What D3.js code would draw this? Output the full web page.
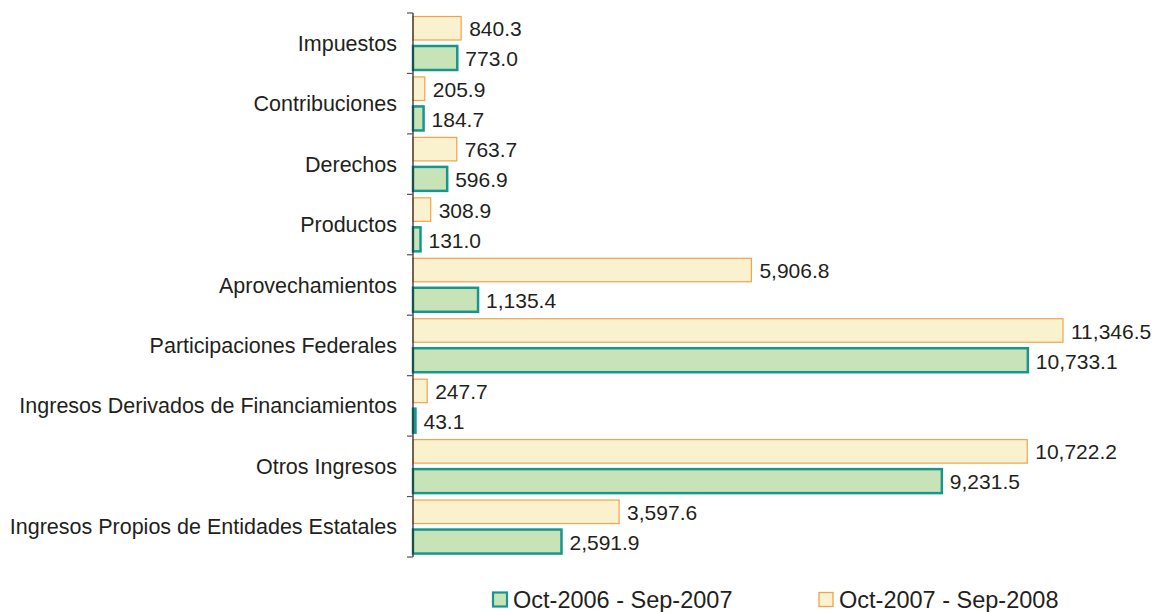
<!DOCTYPE html>
<html><head><meta charset="utf-8">
<script src="https://cdn.jsdelivr.net/npm/d3@7"></script>
<style>body{margin:0;background:#fff}svg{display:block}text{font-family:"Liberation Sans",Arial,sans-serif}</style>
</head><body>
<script>
const categories = ["Impuestos","Contribuciones","Derechos","Productos","Aprovechamientos","Participaciones Federales","Ingresos Derivados de Financiamientos","Otros Ingresos","Ingresos Propios de Entidades Estatales"];
const series2007 = [773.0,184.7,596.9,131.0,1135.4,10733.1,43.1,9231.5,2591.9];
const series2008 = [840.3,205.9,763.7,308.9,5906.8,11346.5,247.7,10722.2,3597.6];
const seriesNames = ["Oct-2006 - Sep-2007","Oct-2007 - Sep-2008"];

const W=1160,H=612;
const svg=d3.select("body").append("svg").attr("width",W).attr("height",H);
const x0=413;
const x=d3.scaleLinear().domain([0,11346.5]).range([x0,1063]);
const y=d3.scaleBand().domain(categories).range([13,557]);
const fmt=d3.format(",.1f");
const FS=21;

const g=svg.append("g");
categories.forEach((c,i)=>{
  const b=y(c);
  g.append("rect").attr("x",x(0)).attr("y",b+3.5).attr("width",x(series2008[i])-x(0)).attr("height",23.5)
    .attr("fill","#FAF1CF").attr("stroke","#F2A24A").attr("stroke-width",1.2);
  g.append("text").attr("x",x(series2008[i])+8).attr("y",b+16).attr("dy","0.35em")
    .attr("font-size",FS).attr("fill","#231f20").text(fmt(series2008[i]));
  g.append("rect").attr("x",x(0)).attr("y",b+33).attr("width",x(series2007[i])-x(0)).attr("height",24)
    .attr("fill","#C9E3B8").attr("stroke","#17978C").attr("stroke-width",2.5);
  g.append("text").attr("x",x(series2007[i])+8).attr("y",b+46).attr("dy","0.35em")
    .attr("font-size",FS).attr("fill","#231f20").text(fmt(series2007[i]));
});

svg.append("line").attr("x1",x0).attr("x2",x0).attr("y1",13).attr("y2",557).attr("stroke","#231f20").attr("stroke-width",1.2);
const bounds=categories.map(c=>y(c)).concat([y.range()[1]]);
svg.selectAll(".tk").data(bounds).join("line").attr("x1",x0-6).attr("x2",x0).attr("y1",d=>d).attr("y2",d=>d)
  .attr("stroke","#555").attr("stroke-width",1.2);
svg.selectAll(".cl").data(categories).join("text").attr("x",397).attr("y",d=>y(d)+y.bandwidth()/2).attr("dy","0.35em")
  .attr("text-anchor","end").attr("font-size",21.5).attr("fill","#231f20").text(d=>d);

const leg=[{name:seriesNames[0],fill:"#C9E3B8",stroke:"#17978C",sw:2.2,x:493},{name:seriesNames[1],fill:"#FAF1CF",stroke:"#F2A24A",sw:1.3,x:819}];
leg.forEach(l=>{
  svg.append("rect").attr("x",l.x).attr("y",592.5).attr("width",14).attr("height",14).attr("fill",l.fill).attr("stroke",l.stroke).attr("stroke-width",l.sw);
  svg.append("text").attr("x",l.x+20).attr("y",600).attr("dy","0.35em").attr("font-size",23.5).attr("fill","#231f20").text(l.name);
});
</script>
</body></html>
